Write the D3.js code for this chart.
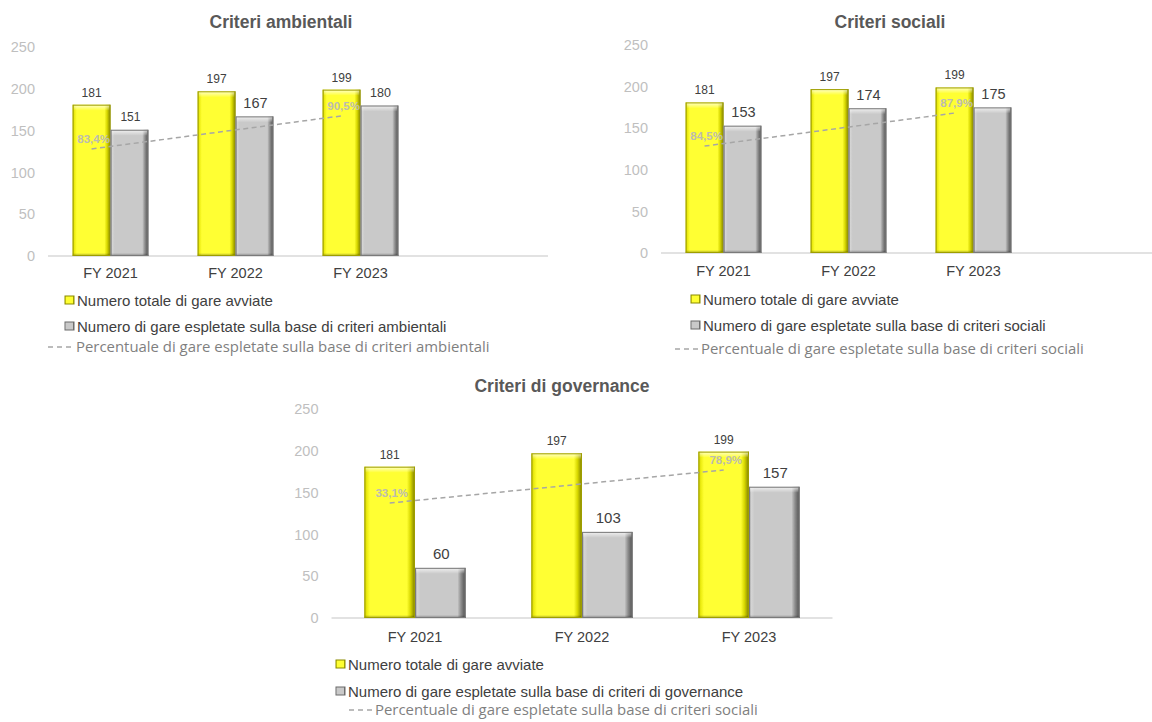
<!DOCTYPE html>
<html><head><meta charset="utf-8">
<script src="https://cdn.jsdelivr.net/npm/d3@7"></script>
<style>
html,body{margin:0;padding:0;background:#fff;}
svg{display:block;font-family:"Liberation Sans",Arial,sans-serif;}
</style></head>
<body>
<svg id="chart" width="1152" height="722"></svg>
<script>
// ---------- data ----------
const categories = ["FY 2021", "FY 2022", "FY 2023"];
const totaleGare = [181, 197, 199];
const gareAmbientali = [151, 167, 180];
const gareSociali = [153, 174, 175];
const gareGovernance = [60, 103, 157];
const pctCategories = ["FY 2021", "FY 2023"];
const pctAmbientali = [83.4, 90.5];
const pctSociali = [84.5, 87.9];
const pctGovernance = [33.1, 78.9];
const pctAxisAmbientali = [60.4, 105.3];
const pctAxisSociali = [73.5, 94.9];
const pctAxisGovernance = [-126.4, 163.5];
const yTicks = [0, 50, 100, 150, 200, 250];
const titles = ["Criteri ambientali", "Criteri sociali", "Criteri di governance"];
const legendTotale = "Numero totale di gare avviate";
const legendGare = ["Numero di gare espletate sulla base di criteri ambientali",
                    "Numero di gare espletate sulla base di criteri sociali",
                    "Numero di gare espletate sulla base di criteri di governance"];
const legendPct = ["Percentuale di gare espletate sulla base di criteri ambientali",
                   "Percentuale di gare espletate sulla base di criteri sociali",
                   "Percentuale di gare espletate sulla base di criteri sociali"];

// ---------- layout ----------
const charts = [
  {vals: gareAmbientali, pct: pctAmbientali, pctAxis: pctAxisAmbientali, title: titles[0],
   lg: legendGare[0], lp: legendPct[0], extraBand: true,
   x0: 48, band: 125, y0: 256, y1: 47, titleX: 281, titleY: 28, fyY: 278,
   legX: 65, legRows: [300, 326, 347], dashX: 48, pctTextX: 76, gareLabelSize: [12, 14.5, 12.5]},
  {vals: gareSociali, pct: pctSociali, pctAxis: pctAxisSociali, title: titles[1],
   lg: legendGare[1], lp: legendPct[1], extraBand: true,
   x0: 661, band: 125, y0: 253, y1: 45, titleX: 890, titleY: 28, fyY: 276,
   legX: 691, legRows: [299, 325, 349], dashX: 675, pctTextX: 701, gareLabelSize: [14.5, 14.5, 14.5]},
  {vals: gareGovernance, pct: pctGovernance, pctAxis: pctAxisGovernance, title: titles[2],
   lg: legendGare[2], lp: legendPct[2], extraBand: false,
   x0: 331.5, band: 167, y0: 618, y1: 409, titleX: 562, titleY: 392, fyY: 642,
   legX: 336, legRows: [664, 691, 710], dashX: 349, pctTextX: 375, gareLabelSize: [15, 15, 15]}
];

const svg = d3.select("#chart");
const defs = svg.append("defs");

function hGrad(id, stops) {
  const g = defs.append("linearGradient").attr("id", id)
    .attr("x1", "0").attr("y1", "0").attr("x2", "1").attr("y2", "0");
  stops.forEach(s => g.append("stop").attr("offset", s[0]).attr("stop-color", s[1]));
}
hGrad("gYellow", [[0, "#c9c900"], [0.05, "#eded10"], [0.11, "#ffff33"], [0.84, "#ffff33"], [0.91, "#d8d800"], [1, "#7d7d00"]]);
hGrad("gGray", [[0, "#9a9a9a"], [0.05, "#d4d4d4"], [0.11, "#c9c9c9"], [0.84, "#c9c9c9"], [0.91, "#8c8c8c"], [1, "#4d4d4d"]]);
const vt = defs.append("linearGradient").attr("id", "gTop").attr("x1", 0).attr("y1", 0).attr("x2", 0).attr("y2", 1);
vt.append("stop").attr("offset", 0).attr("stop-color", "#fff").attr("stop-opacity", 0.75);
vt.append("stop").attr("offset", 1).attr("stop-color", "#fff").attr("stop-opacity", 0);
const vb = defs.append("linearGradient").attr("id", "gBot").attr("x1", 0).attr("y1", 0).attr("x2", 0).attr("y2", 1);
vb.append("stop").attr("offset", 0).attr("stop-color", "#000").attr("stop-opacity", 0);
vb.append("stop").attr("offset", 1).attr("stop-color", "#000").attr("stop-opacity", 0.35);

function bevelBar(g, x, y, w, h, kind) {
  const b = g.append("g");
  b.append("rect").attr("x", x).attr("y", y).attr("width", w).attr("height", h)
    .attr("fill", kind === "y" ? "url(#gYellow)" : "url(#gGray)");
  b.append("rect").attr("x", x + 1).attr("y", y).attr("width", w - 2).attr("height", Math.min(6, h))
    .attr("fill", "url(#gTop)");
  b.append("rect").attr("x", x).attr("y", y + h - Math.min(3, h)).attr("width", w).attr("height", Math.min(3, h))
    .attr("fill", "url(#gBot)");
  b.append("rect").attr("x", x + 0.5).attr("y", y + 0.5).attr("width", w - 1).attr("height", Math.max(0, h - 1))
    .attr("fill", "none").attr("stroke", kind === "y" ? "#9e9e00" : "#7a7a7a").attr("stroke-width", 1);
}

// size of the third legend line's font, fitted to the reference text width
const probe = svg.append("text").attr("font-family", "'Open Sans', sans-serif").attr("font-size", 14).text(legendPct[0]);
const pctFont = 14 * 414 / probe.node().getComputedTextLength();
probe.remove();

charts.forEach(c => {
  const g = svg.append("g");
  const domain = c.extraBand ? categories.concat([""]) : categories;
  const x = d3.scaleBand().domain(domain).range([c.x0, c.x0 + c.band * domain.length]).padding(0);
  const y = d3.scaleLinear().domain([0, 250]).range([c.y0, c.y1]);
  const y2 = d3.scaleLinear().domain(c.pctAxis).range([c.y0, c.y1]);
  const bw = x.bandwidth() * 0.303;
  const cx = d => x(d) + x.bandwidth() / 2;

  // title
  g.append("text").attr("x", c.titleX).attr("y", c.titleY).attr("text-anchor", "middle")
    .attr("font-size", 17.5).attr("font-weight", "bold").attr("fill", "#595959").text(c.title);

  // y axis
  const ya = g.append("g").attr("transform", `translate(${c.x0},0)`)
    .call(d3.axisLeft(y).tickValues(yTicks).tickSize(0).tickPadding(13));
  ya.select(".domain").remove();
  ya.selectAll("text").attr("font-size", 14.5).attr("fill", "#bfbfbf")
    .attr("font-family", "'Liberation Sans', Arial, sans-serif");

  // baseline
  g.append("line").attr("x1", c.x0).attr("x2", c.x0 + c.band * domain.length)
    .attr("y1", y(0)).attr("y2", y(0)).attr("stroke", "#d9d9d9").attr("stroke-width", 1.5);

  // x axis labels
  const xa = g.append("g").attr("transform", `translate(0,${c.fyY - 11})`)
    .call(d3.axisBottom(x).tickValues(categories).tickSize(0).tickPadding(0));
  xa.select(".domain").remove();
  xa.selectAll("text").attr("font-size", 14.5).attr("fill", "#404040").attr("dy", "0")
    .attr("y", 11).attr("font-family", "'Liberation Sans', Arial, sans-serif");

  // bars
  categories.forEach((cat, i) => {
    const xc = cx(cat);
    bevelBar(g, xc - bw, y(totaleGare[i]), bw, y(0) - y(totaleGare[i]), "y");
    bevelBar(g, xc, y(c.vals[i]), bw, y(0) - y(c.vals[i]), "g");
    g.append("text").attr("x", xc - bw / 2).attr("y", y(totaleGare[i]) - 8)
      .attr("text-anchor", "middle").attr("font-size", 12).attr("fill", "#404040").text(totaleGare[i]);
    g.append("text").attr("x", xc + bw / 2 + 1).attr("y", y(c.vals[i]) - 8.5)
      .attr("text-anchor", "middle").attr("font-size", c.gareLabelSize[i]).attr("fill", "#404040").text(c.vals[i]);
  });

  // percentage line
  const pts = pctCategories.map((cat, i) => [cx(cat) - bw / 2, y2(c.pct[i])]);
  g.append("path").attr("d", d3.line()(pts)).attr("fill", "none")
    .attr("stroke", "#a6a6a6").attr("stroke-width", 1.5).attr("stroke-dasharray", "5,3.5");
  pts.forEach((p, i) => {
    g.append("text").attr("x", p[0] + 2).attr("y", p[1] - 6).attr("text-anchor", "middle")
      .attr("font-size", 11.5).attr("font-weight", "bold").attr("fill", "#bcbcb0")
      .text(d3.format(".1f")(c.pct[i]).replace(".", ",") + "%");
  });

  // legend
  const leg = g.append("g");
  [["y", legendTotale], ["g", c.lg]].forEach((it, k) => {
    const ry = c.legRows[k];
    leg.append("rect").attr("x", c.legX).attr("y", ry - 4).attr("width", 9).attr("height", 8)
      .attr("fill", it[0] === "y" ? "url(#gYellow)" : "url(#gGray)")
      .attr("stroke", it[0] === "y" ? "#8a8a00" : "#6a6a6a").attr("stroke-width", 1);
    leg.append("text").attr("x", c.legX + 12).attr("y", ry + 5.5).attr("font-size", 15)
      .attr("fill", "#404040").text(it[1]);
  });
  const r3 = c.legRows[2];
  leg.append("line").attr("x1", c.dashX).attr("x2", c.pctTextX - 3).attr("y1", r3).attr("y2", r3)
    .attr("stroke", "#a6a6a6").attr("stroke-width", 1.3).attr("stroke-dasharray", "5,4");
  leg.append("text").attr("x", c.pctTextX).attr("y", r3 + 5).attr("font-size", pctFont)
    .attr("font-family", "'Open Sans', sans-serif").attr("fill", "#7f7f7f").text(c.lp);
});
</script>
</body></html>
